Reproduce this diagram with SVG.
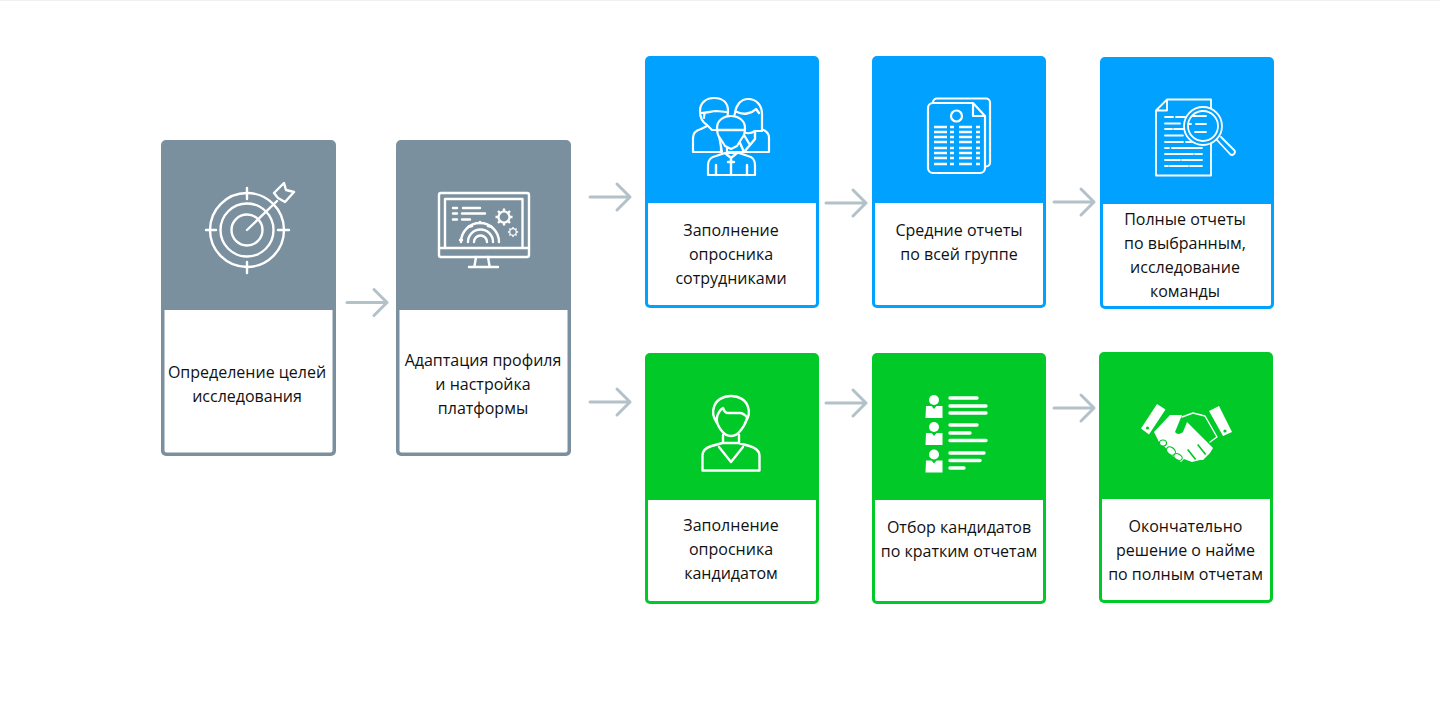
<svg xmlns="http://www.w3.org/2000/svg" width="1440" height="707" viewBox="0 0 1440 707">
<defs><style>
.t{font-family:"Open Sans","Noto Sans",sans-serif;font-size:16px;fill:#111;text-anchor:middle}
.ar{fill:none;stroke:#b3c1c8;stroke-width:3;stroke-linecap:round;stroke-linejoin:round}
.i{fill:none;stroke:#fff;stroke-width:2.4;stroke-linecap:round;stroke-linejoin:round}
.b{fill:#00a1ff;stroke:#fff;stroke-width:2.2;stroke-linecap:round;stroke-linejoin:round}
.f{fill:#fff}
.g{fill:#00c928}
.w{fill:#fff}
</style>
<path id="a" class="ar" d="M0 0H40M27-13L40 0L27 13"/>
<g id="gear"><circle r="5.500" fill="none" stroke="#fff" stroke-width="2.200"/><path d="M0-8.500V-6M0 6V8.500M-8.500 0H-6M6 0H8.500M-6-6L-4.300-4.300M6-6L4.300-4.300M-6 6L-4.300 4.300M6 6L4.300 4.300" stroke="#fff" stroke-width="2.400" fill="none"/></g>
<g id="li"><circle cx="934" cy="0" r="5" class="f"/><path class="f" d="M926 6h5.500l2.500 3 2.500-3h6v12h-17z"/></g>
</defs>
<rect width="1440" height="707" fill="#fff"/>
<rect width="1440" height="1" fill="#f0f0f0"/>
<g id="connectors">
<use href="#a" x="347" y="302.500"/><use href="#a" x="590" y="197"/><use href="#a" x="590" y="402"/>
<use href="#a" x="826" y="203"/><use href="#a" x="826" y="403"/><use href="#a" x="1054" y="202"/><use href="#a" x="1054" y="408"/>
</g>
<g id="n1"><rect x="161" y="140" width="175" height="316" rx="5" fill="#7b909f"/><path class="w" d="M164.500 310h168v140.500a2 2 0 0 1-2 2h-164a2 2 0 0 1-2-2z"/>
<g class="i"><circle cx="247" cy="230" r="37"/><circle cx="247" cy="230" r="26.500"/><circle cx="247" cy="230" r="15.500"/><path d="M247 188v11M247 262v11M206 230h10M278 230h11M247 230L277 201M274 193l10-10 2 7 8 2-9 10-7-4z"/></g>
<text class="t" x="247" y="378">Определение целей</text><text class="t" x="247" y="402">исследования</text></g>
<g id="n2"><rect x="396" y="140" width="175" height="316" rx="5" fill="#7b909f"/><path class="w" d="M399.500 310h168v140.500a2 2 0 0 1-2 2h-164a2 2 0 0 1-2-2z"/>
<g class="i"><rect x="439" y="193" width="90" height="64" rx="2"/><path d="M439 248h90M445 248v-49h77.500v49M476 257l-1.500 9M488 257l1.500 9M469 267h29M453 208h4M463 208h17M453 213.500h4M462 213.500h23M453 219.500h4M462 219.500h8"/><path d="M461 242a19 19 0 0 1 38 0M468 242a12.500 12.500 0 0 1 25 0M474 242a6.500 6.500 0 0 1 13 0"/><path d="M468 227l4-1M492 227l-4-1M480 222v1M460 240h2"/></g>
<use href="#gear" transform="translate(504 217)"/><use href="#gear" transform="translate(513 232) scale(.6)"/>
<text class="t" x="483" y="366">Адаптация профиля</text><text class="t" x="483" y="390">и настройка</text><text class="t" x="483" y="414">платформы</text></g>
<g id="n3"><rect x="645" y="56" width="174" height="252" rx="5" fill="#00a1ff"/><path class="w" d="M648 203h168v100a2 2 0 0 1-2 2h-164a2 2 0 0 1-2-2z"/>
<path class="b" d="M693 152v-14c0-5 4-8 8-9l6-3h14v26zM745 125c-3 0-7 0-10 3l-8 9v15h42v-14c0-5-4-8-8-9l-6-3z"/>
<path class="b" d="M727 128l-8 8 3 16"/>
<path class="b" d="M707 125c-5-3-7-9-7-14 0-9 7-13 14-13 8 0 14 4 14 13 0 4-1 8-3 11l-5 8h-8zM701 113c6 0 11-2 15-2l11 1M704 118c0-2 0-4 1-5"/>
<path class="b" d="M734 130c-1-6 0-14 1-17 1-8 6-14 13-14 9 0 14 7 14 15v17h-7c-4 3-10 3-14 0z"/><path class="i" d="M737 112c6 3 14 2 19-3l3 4M744 135l6 10-6 7-4-9M755 131v8l-5 6"/>
<path class="b" d="M708 175v-10c0-5 3-8 8-9l9-3h14l9 3c5 1 7 4 7 9v10z"/>
<path class="i" d="M725 153l6 5 6-5M731 158v17M728 162h6M716 175v-10M747 175v-10"/>
<path class="b" d="M720 138c-3-3-3-7-3-10 0-8 7-12 14-12s14 4 14 12c0 3 0 7-3 10l-5 8-6 3-6-3z"/><path class="i" d="M718 130h26"/>
<text class="t" x="731" y="236">Заполнение</text><text class="t" x="731" y="260">опросника</text><text class="t" x="731" y="284">сотрудниками</text></g>
<g id="n4"><rect x="872" y="56" width="174" height="252" rx="5" fill="#00a1ff"/><path class="w" d="M875 203h168v100a2 2 0 0 1-2 2h-164a2 2 0 0 1-2-2z"/>
<rect x="933" y="98.500" width="57" height="68" rx="4" class="b"/>
<path class="b" d="M933 103h40l12 13v52a5 5 0 0 1-5 5h-47a5 5 0 0 1-5-5v-60a5 5 0 0 1 5-5zM973 103v13h12"/>
<circle cx="956.500" cy="116" r="5.500" class="b"/>
<g class="i" stroke-width="2.200" style="stroke-linecap:butt"><path d="M934 127h13M950 127h4M959 127h13M976 127h4M934 132h13M950 132h4M959 132h13M976 132h4M934 137h13M950 137h4M959 137h13M976 137h4M934 142h13M950 142h4M959 142h13M976 142h4M934 148h13M950 148h4M959 148h13M976 148h4M934 153h13M950 153h4M959 153h13M976 153h4M934 158h13M950 158h4M959 158h13M976 158h4M934 164h13M950 164h4M959 164h13M976 164h4"/></g>
<text class="t" x="959" y="236">Средние отчеты</text><text class="t" x="959" y="260">по всей группе</text></g>
<g id="n5"><rect x="1100" y="57" width="174" height="252" rx="5" fill="#00a1ff"/><path class="w" d="M1103 204h168v100a2 2 0 0 1-2 2h-164a2 2 0 0 1-2-2z"/>
<g class="i" style="stroke-width:1.800"><path d="M1167 99.500h44v76h-55v-65zM1167 99.500v11h-11"/><path d="M1165 117h8M1176 117h9M1165 123.500h15M1165 129h7M1174 129h10M1165 135.500h18M1165 142h18M1186 142h7M1165 148h4M1172 148h30M1165 154h28M1195 154h7M1165 160h15M1182 160h20M1165 166h3M1170 166h18M1190 166h12"/><circle cx="1203" cy="126" r="19" fill="#00a1ff"/><circle cx="1203" cy="126" r="15"/><path d="M1217 140l13 14a2.800 2.800 0 0 0 4-4l-13-13M1193 116h13M1188 124h3M1196 124h10M1195 132h11"/></g>
<text class="t" x="1185" y="225">Полные отчеты</text><text class="t" x="1185" y="249">по выбранным,</text><text class="t" x="1185" y="273">исследование</text><text class="t" x="1185" y="297">команды</text></g>
<g id="n6"><rect x="645" y="353" width="174" height="251" rx="5" fill="#00c928"/><path class="w" d="M648 500h168v99a2 2 0 0 1-2 2h-164a2 2 0 0 1-2-2z"/>
<g class="i"><path d="M702.500 470.500v-15c0-5 4-8 9-9.500l11-3h16l11 3c5 1.500 10 4.500 10 9.500v15zM723 435v8M739 435v8M719 447l12 15 12-15"/>
<path d="M717 423c-4-6-5-11-3-16 2-7 9-11 17-11s15 4 17 11c2 5 1 10-3 16M717 417c-1 5 1 9 4 13 3 4 6 6 10 6s7-2 10-6c3-4 6-8 6-13"/><path d="M717 417c1-4 3-7 6-9 1 3 3 5 5 5h12c3 0 5 2 7 4"/></g>
<text class="t" x="731" y="531">Заполнение</text><text class="t" x="731" y="555">опросника</text><text class="t" x="731" y="579">кандидатом</text></g>
<g id="n7"><rect x="872" y="353" width="174" height="251" rx="5" fill="#00c928"/><path class="w" d="M875 500h168v99a2 2 0 0 1-2 2h-164a2 2 0 0 1-2-2z"/>
<use href="#li" y="400"/><use href="#li" y="427"/><use href="#li" y="454.500"/>
<g class="i" style="stroke-width:3.400"><path d="M950 398h27M950 406h36M950 413h36M950 425h27M950 433h20M950 440.500h36M950 453h34M950 460.500h30M950 468h14"/></g>
<text class="t" x="959" y="533">Отбор кандидатов</text><text class="t" x="959" y="557">по кратким отчетам</text></g>
<g id="n8"><rect x="1099" y="352" width="174" height="251" rx="5" fill="#00c928"/><path class="w" d="M1102 499h168v99a2 2 0 0 1-2 2h-164a2 2 0 0 1-2-2z"/>
<path class="f" d="M1157 404l8.500 5.500-16.500 25-8-6zM1219 406l13 26-9 4-14-25z"/>
<circle cx="1147.500" cy="428" r="1.600" class="g"/><circle cx="1225" cy="431" r="1.600" class="g"/>
<path class="f" d="M1154 432l16-17h12l-7 17c2 3 6 2 8 0l4-10 26 26-3 5-7 7-3 0-8 2-8-3-3 3-10-7-6-8-6-5z"/>
<path class="g" d="M1187 450l8 10 1.300-1-8-10zM1197 445l8 10 1.300-1-8-10z"/>
<g fill="#fff" stroke="#00c928" stroke-width="1.200"><ellipse cx="1163" cy="443" rx="3.500" ry="3"/><ellipse cx="1171" cy="451" rx="5" ry="3.500" transform="rotate(40 1171 451)"/><ellipse cx="1178" cy="457" rx="4.500" ry="3" transform="rotate(30 1178 457)"/></g>
<path class="i" style="stroke-width:1.400" d="M1182 417l11-4 12 3 12 21-7 5"/>
<text class="t" x="1185.500" y="532">Окончательно</text><text class="t" x="1185.500" y="556">решение о найме</text><text class="t" x="1185.500" y="580">по полным отчетам</text></g>
</svg>
